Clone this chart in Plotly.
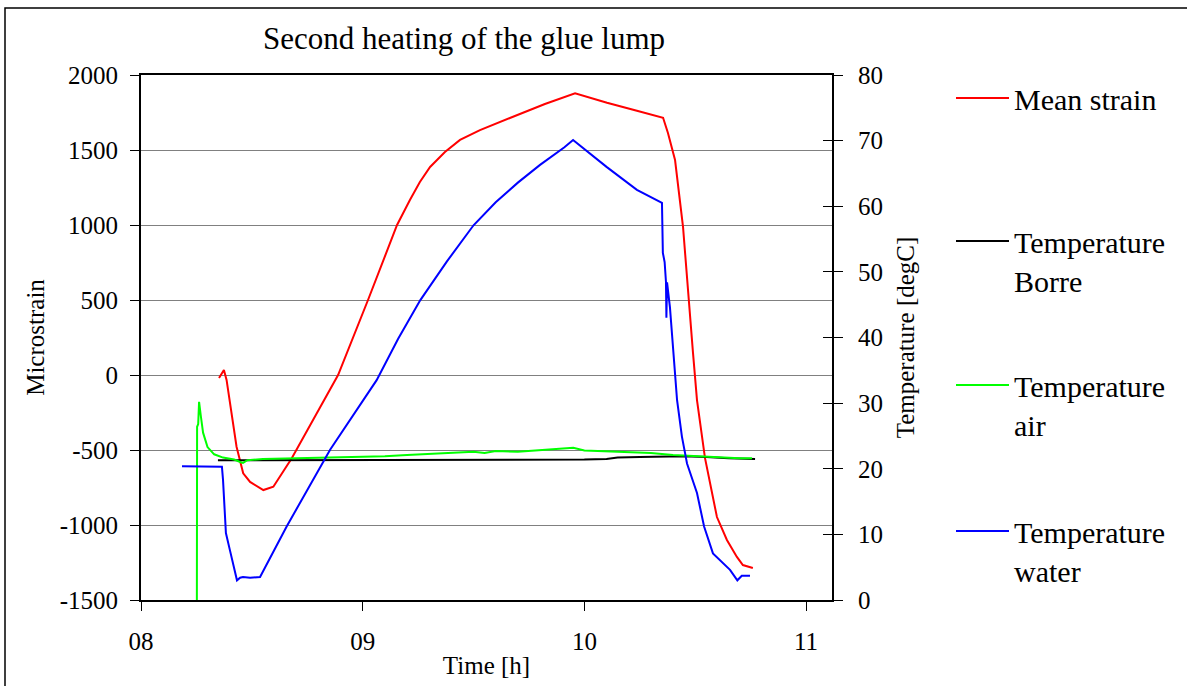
import plotly.graph_objects as go

# ---------------- data ----------------
strain_t = [8.352, 8.374, 8.386, 8.431, 8.461, 8.492, 8.552, 8.597, 8.680, 8.780,
            8.889, 9.024, 9.155, 9.213, 9.258, 9.304, 9.371, 9.439, 9.529, 9.664,
            9.822, 9.958, 10.102, 10.237, 10.355, 10.377, 10.409, 10.445, 10.467,
            10.490, 10.508, 10.544, 10.598, 10.643, 10.688, 10.715, 10.760]
strain_v = [-20, 33, -33, -478, -655, -713, -767, -745, -555, -290,
            0, 500, 1000, 1167, 1287, 1387, 1487, 1567, 1633, 1713,
            1807, 1878, 1815, 1762, 1715, 1613, 1433, 987, 547,
            147, -167, -553, -947, -1100, -1213, -1267, -1287]

borre_t = [8.347, 8.45, 8.60, 8.80, 9.00, 9.20, 9.40, 9.60, 9.80, 10.00, 10.10,
           10.15, 10.25, 10.35, 10.45, 10.55, 10.65, 10.77]
borre_v = [21.3, 21.3, 21.4, 21.4, 21.4, 21.4, 21.4, 21.4, 21.4, 21.4, 21.5,
           21.7, 21.8, 21.9, 21.9, 21.8, 21.6, 21.5]

air_t = [8.252, 8.253, 8.258, 8.262, 8.270, 8.280, 8.300, 8.330, 8.370, 8.420,
         8.450, 8.460, 8.480, 8.550, 8.700, 8.850, 9.000, 9.100, 9.200, 9.300,
         9.400, 9.500, 9.550, 9.600, 9.700, 9.800, 9.900, 9.950, 10.000, 10.100,
         10.200, 10.300, 10.400, 10.500, 10.600, 10.700, 10.756]
air_v = [0.0, 26.4, 26.8, 30.2, 28.0, 25.5, 23.3, 22.2, 21.7, 21.4,
         21.0, 20.9, 21.3, 21.5, 21.6, 21.7, 21.8, 21.9, 22.1, 22.3,
         22.4, 22.6, 22.4, 22.7, 22.6, 22.8, 23.0, 23.2, 22.8, 22.7,
         22.6, 22.4, 22.1, 21.9, 21.7, 21.6, 21.6]

water_t = [8.185, 8.365, 8.370, 8.383, 8.401, 8.433, 8.447, 8.460, 8.492, 8.537,
           8.657, 8.853, 9.063, 9.160, 9.260, 9.380, 9.500, 9.600, 9.700, 9.800,
           9.910, 9.949, 10.100, 10.237, 10.350, 10.354, 10.362, 10.368, 10.370,
           10.373, 10.386, 10.404, 10.418, 10.440, 10.463, 10.508, 10.540, 10.580,
           10.657, 10.690, 10.710, 10.747]
water_v = [20.4, 20.3, 18.3, 10.2, 7.6, 3.0, 3.4, 3.5, 3.4, 3.5,
           11.2, 22.9, 33.5, 39.8, 45.7, 51.6, 57.1, 60.6, 63.6, 66.3,
           69.0, 70.1, 66.0, 62.5, 60.5, 52.9, 51.5, 48.5, 43.0,
           48.4, 44.6, 36.6, 30.5, 24.9, 20.8, 16.3, 11.2, 7.1,
           4.6, 3.0, 3.7, 3.7]

x_tickvals = [8, 9, 10, 11]
x_ticktext = ["08", "09", "10", "11"]
y_tickvals = [-1500, -1000, -500, 0, 500, 1000, 1500, 2000]
y_ticktext = ["-1500", "-1000", "-500", "0", "500", "1000", "1500", "2000"]
y2_tickvals = [0, 10, 20, 30, 40, 50, 60, 70, 80]

# ---------------- figure ----------------
W, H = 1187, 686
L, R, T, B = 141, 355, 75, 86
FONT = "Liberation Serif"

fig = go.Figure()
fig.add_trace(go.Scatter(x=strain_t, y=strain_v, mode="lines", name="Mean strain",
                         line=dict(color="#ff0000", width=2), yaxis="y", legend="legend"))
fig.add_trace(go.Scatter(x=borre_t, y=borre_v, mode="lines", name="Temperature<br>Borre",
                         line=dict(color="#000000", width=2), yaxis="y2", legend="legend2"))
fig.add_trace(go.Scatter(x=air_t, y=air_v, mode="lines", name="Temperature<br>air",
                         line=dict(color="#00ff00", width=2), yaxis="y2", legend="legend3"))
fig.add_trace(go.Scatter(x=water_t, y=water_v, mode="lines", name="Temperature<br>water",
                         line=dict(color="#0000ff", width=2), yaxis="y2", legend="legend4"))

tickfont = dict(family=FONT, size=25, color="black")
legfont = dict(family=FONT, size=30, color="black")

def leg(ypx):
    return dict(x=951 / W, y=1 - ypx / H, xref="container", yref="container",
                xanchor="left", yanchor="top", font=legfont, valign="top",
                bgcolor="rgba(0,0,0,0)", borderwidth=0, itemwidth=53)

fig.update_layout(
    width=W, height=H,
    margin=dict(l=L, r=R, t=T, b=B, autoexpand=False),
    paper_bgcolor="white", plot_bgcolor="white",
    font=dict(family=FONT, color="black"),
    title=dict(text="Second heating of the glue lump", x=464 / W, xref="container",
               xanchor="center", y=1 - 38 / H, yref="container", yanchor="middle",
               font=dict(family=FONT, size=31, color="black")),
    showlegend=True,
    legend=leg(72), legend2=leg(215), legend3=leg(359), legend4=leg(505),
    xaxis=dict(range=[8, 11.117], tickvals=x_tickvals, ticktext=x_ticktext,
               showline=True, linecolor="black", linewidth=2, mirror=True,
               ticks="outside", ticklen=9, tickwidth=1, tickcolor="black",
               showgrid=False, zeroline=False, tickfont=tickfont, ticklabelstandoff=9,
               title=dict(text="Time [h]", font=tickfont, standoff=2)),
    yaxis=dict(range=[-1500, 2000], tickvals=y_tickvals, ticktext=y_ticktext,
               showline=True, linecolor="black", linewidth=2,
               ticks="outside", ticklen=9, tickwidth=1, tickcolor="black",
               showgrid=True, gridcolor="#808080", gridwidth=1, zeroline=False,
               tickfont=tickfont, ticklabelstandoff=7,
               title=dict(text="Microstrain", font=tickfont, standoff=8)),
    yaxis2=dict(range=[0, 80], tickvals=y2_tickvals, overlaying="y", side="right",
                anchor="x", showline=True, linecolor="black", linewidth=2,
                ticks="outside", ticklen=9, tickwidth=1, tickcolor="black",
                showgrid=False, zeroline=False, tickfont=tickfont, ticklabelstandoff=10,
                title=dict(text="Temperature [degC]", font=tickfont, standoff=14)),
    yaxis3=dict(range=[0, 80], tickvals=y2_tickvals, overlaying="y", side="right",
                anchor="x", showline=False, ticks="inside", ticklen=9, tickwidth=1,
                tickcolor="black", showticklabels=False, showgrid=False, zeroline=False),
)
# invisible helper trace to activate the crossing tick marks axis
fig.add_trace(go.Scatter(x=[None], y=[None], yaxis="y3", showlegend=False, hoverinfo="skip"))

# outer chart frame
fig.add_shape(type="rect", xref="paper", yref="paper",
              x0=(5 - L) / (W - L - R), x1=(W + 10 - L) / (W - L - R),
              y0=-(H + 10 - (H - B)) / (H - T - B), y1=(H - B - 8) / (H - T - B),
              line=dict(color="black", width=1.5), fillcolor="rgba(0,0,0,0)", layer="below")

fig.write_html("out.html")
